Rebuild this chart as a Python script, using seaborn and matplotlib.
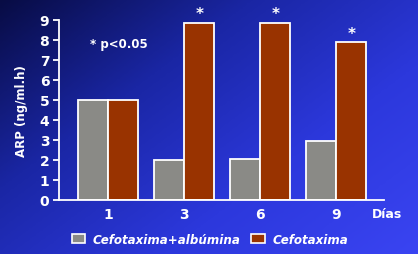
import numpy as np
import pandas as pd
import matplotlib
matplotlib.use("Agg")
import matplotlib.pyplot as plt
import seaborn as sns
from matplotlib.colors import LinearSegmentedColormap
from matplotlib.patches import Rectangle

days = ["1", "3", "6", "9"]
series_names = ["Cefotaxima+albúmina", "Cefotaxima"]
albumina = [5.0, 1.98, 2.03, 2.93]
cefotaxima = [5.0, 8.86, 8.86, 7.86]
significant = [False, True, True, True]
yticks = [0, 1, 2, 3, 4, 5, 6, 7, 8, 9]

df = pd.DataFrame({
    "dia": days * 2,
    "serie": [series_names[0]] * 4 + [series_names[1]] * 4,
    "arp": albumina + cefotaxima,
})

sns.set_theme(style="white")
plt.rcParams["font.family"] = ["DejaVu Sans"]

fig = plt.figure(figsize=(4.18, 2.55), dpi=100)

# background gradient
bg = fig.add_axes([0, 0, 1, 1], zorder=0)
bg.set_axis_off()
cmap = LinearSegmentedColormap.from_list("bg", ["#080c44", "#1a26a4", "#2c38dc", "#3a44f2"])
xx, yy = np.meshgrid(np.linspace(0, 1, 300), np.linspace(0, 1, 200))
grad = 0.55 * xx + 0.45 * yy
bg.imshow(grad, cmap=cmap, aspect="auto", extent=[0, 1, 0, 1], origin="upper")
bg.set_xlim(0, 1)
bg.set_ylim(0, 1)

ax = fig.add_axes([59 / 418, (255 - 200.7) / 255, 325 / 418, 180 / 255], zorder=1)
ax.patch.set_alpha(0)

palette = {series_names[0]: "#8a8a86", series_names[1]: "#993300"}
sns.barplot(data=df, x="dia", y="arp", hue="serie", palette=palette,
            width=0.79, gap=0, edgecolor="white", linewidth=1.3,
            saturation=1, ax=ax, legend=False)

ax.set_xlim(-0.645, 3.63)
ax.set_ylim(0, 9)
ax.set_yticks(yticks)
ax.set_yticklabels([str(t) for t in yticks])
for s in ["top", "right"]:
    ax.spines[s].set_visible(False)
for s in ["left", "bottom"]:
    ax.spines[s].set_color("white")
    ax.spines[s].set_linewidth(1.3)
ax.tick_params(axis="y", colors="white", length=4, width=1.3, direction="out", pad=3)
ax.tick_params(axis="x", colors="white", length=0, pad=5)
ax.yaxis.set_ticks_position("left")
for lab in ax.get_yticklabels() + ax.get_xticklabels():
    lab.set_fontweight("bold")
    lab.set_fontsize(10)
    lab.set_color("white")
ax.set_xlabel("")
ax.set_ylabel("ARP (ng/ml.h)", color="white", fontsize=8.5, fontweight="bold", labelpad=8)

# significance asterisks above red bars
for i, (v, sig) in enumerate(zip(cefotaxima, significant)):
    if sig:
        ax.text(i + 0.2, v + 0.45, "*", color="white", fontsize=11, fontweight="bold",
                ha="center", va="center")

ax.text(-0.24, 7.8, "* p<0.05", color="white", fontsize=8.5, fontweight="bold",
        ha="left", va="center")
ax.text(3.67, -0.67, "Días", color="white", fontsize=9, fontweight="bold",
        ha="center", va="center", clip_on=False)

# legend
handles = [Rectangle((0, 0), 1, 1, facecolor=palette[n], edgecolor="white", linewidth=1.2)
           for n in series_names]
leg = fig.legend(handles, series_names, loc="center", bbox_to_anchor=(0.502, 0.058),
                 ncol=2, frameon=False, handlelength=1.15, handleheight=0.85,
                 handletextpad=0.6, columnspacing=0.9,
                 prop={"weight": "bold", "size": 8.6, "style": "italic"})
for t in leg.get_texts():
    t.set_color("white")

fig.savefig("out.png", dpi=100)
